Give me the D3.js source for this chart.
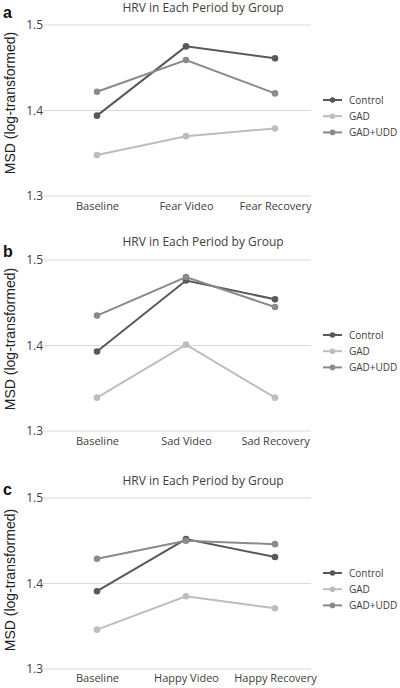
<!DOCTYPE html>
<html><head><meta charset="utf-8">
<script src="https://cdn.jsdelivr.net/npm/d3@7"></script>
<style>body{margin:0;background:#fff;} svg{display:block;}</style>
</head><body>
<svg id="chart" width="400" height="688"></svg>
<script>
const groups = ["Control", "GAD", "GAD+UDD"];
const panelLetters = ["a", "b", "c"];
const categoriesA = ["Baseline", "Fear Video", "Fear Recovery"];
const categoriesB = ["Baseline", "Sad Video", "Sad Recovery"];
const categoriesC = ["Baseline", "Happy Video", "Happy Recovery"];
const yTicks = [1.3, 1.4, 1.5];
const controlA = [1.394, 1.475, 1.461];
const gadA = [1.348, 1.370, 1.379];
const gadUddA = [1.422, 1.459, 1.420];
const controlB = [1.393, 1.476, 1.454];
const gadB = [1.339, 1.401, 1.339];
const gadUddB = [1.435, 1.480, 1.445];
const controlC = [1.391, 1.452, 1.431];
const gadC = [1.346, 1.385, 1.371];
const gadUddC = [1.429, 1.450, 1.446];

const colors = {"Control": "#595959", "GAD": "#bdbdbd", "GAD+UDD": "#8a8a8a"};
const panels = [
  {letter: panelLetters[0], cats: categoriesA, series: [controlA, gadA, gadUddA], top: 25, bottom: 196, titleY: 12, letterY: 18, xLabY: 211, yTitleC: 103},
  {letter: panelLetters[1], cats: categoriesB, series: [controlB, gadB, gadUddB], top: 260, bottom: 431, titleY: 246, letterY: 257, xLabY: 446, yTitleC: 339},
  {letter: panelLetters[2], cats: categoriesC, series: [controlC, gadC, gadUddC], top: 498, bottom: 669, titleY: 485, letterY: 495, xLabY: 683, yTitleC: 580}
];
const font = "'Open Sans', 'Noto Sans', sans-serif";
const svg = d3.select("#chart");

panels.forEach(p => {
  const g = svg.append("g");
  const x = d3.scalePoint().domain(p.cats).range([97, 275]);
  const y = d3.scaleLinear().domain([1.3, 1.5]).range([p.bottom, p.top]);

  g.selectAll("line.grid").data(yTicks).join("line")
    .attr("x1", 43).attr("x2", 311)
    .attr("y1", d => y(d)).attr("y2", d => y(d))
    .attr("stroke", "#d9d9d9").attr("stroke-width", 1);

  const yAxis = d3.axisLeft(y).tickValues(yTicks).tickFormat(d3.format(".1f")).tickSize(0).tickPadding(0);
  const ya = g.append("g").attr("transform", "translate(43,0)").call(yAxis);
  ya.select(".domain").remove();
  ya.selectAll("text").attr("font-family", font).attr("font-size", 12).attr("fill", "#404040").attr("text-anchor", "end");

  const xAxis = d3.axisBottom(x).tickSize(0).tickPadding(0);
  const xa = g.append("g").attr("transform", `translate(0,${p.xLabY - 9})`).call(xAxis);
  xa.select(".domain").remove();
  xa.selectAll("text").attr("font-family", font).attr("font-size", 11).attr("fill", "#404040").attr("dy", "0.71em");

  g.append("text").attr("x", 203).attr("y", p.titleY).attr("text-anchor", "middle")
    .attr("font-family", font).attr("font-size", 12).attr("fill", "#404040")
    .text("HRV in Each Period by Group");

  g.append("text").attr("x", 3).attr("y", p.letterY)
    .attr("font-family", "'Liberation Sans', Arial, sans-serif").attr("font-weight", "bold")
    .attr("font-size", 16).attr("fill", "#111").text(p.letter);

  g.append("text").attr("transform", `translate(15,${p.yTitleC}) rotate(-90)`).attr("text-anchor", "middle")
    .attr("font-family", "'Liberation Sans', Arial, sans-serif").attr("font-size", 14).attr("fill", "#222")
    .text("MSD (log-transformed)");

  const line = d3.line().x((d, i) => x(p.cats[i])).y(d => y(d));
  p.series.forEach((vals, si) => {
    const c = colors[groups[si]];
    g.append("path").datum(vals).attr("d", line).attr("fill", "none")
      .attr("stroke", c).attr("stroke-width", 2);
    g.selectAll(null).data(vals).join("circle")
      .attr("cx", (d, i) => x(p.cats[i])).attr("cy", d => y(d)).attr("r", 3.3).attr("fill", c);
  });

  const legY0 = y(1.4) - 10.5;
  groups.forEach((gr, i) => {
    const ly = legY0 + i * 16.2;
    const c = colors[gr];
    g.append("line").attr("x1", 323).attr("x2", 342).attr("y1", ly).attr("y2", ly)
      .attr("stroke", c).attr("stroke-width", 2);
    g.append("circle").attr("cx", 332.5).attr("cy", ly).attr("r", 2.8).attr("fill", c);
    g.append("text").attr("x", 349).attr("y", ly).attr("dy", "0.35em")
      .attr("font-family", font).attr("font-size", 10).attr("fill", "#404040").text(gr);
  });
});
</script>
</body></html>
